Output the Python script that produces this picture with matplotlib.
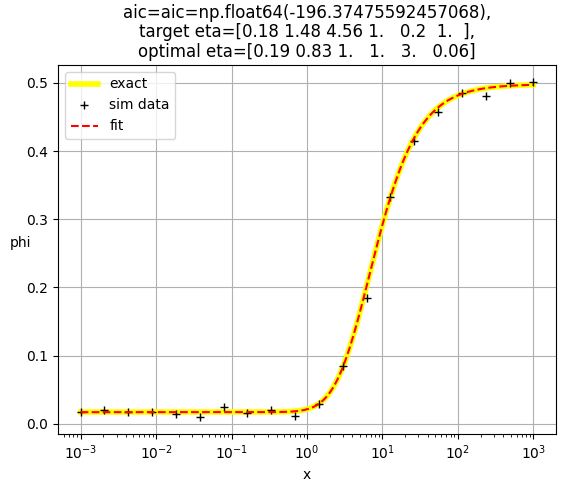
import numpy as np
import matplotlib
matplotlib.use("Agg")
import matplotlib.pyplot as plt

# simulated data
x_data = [0.001, 0.00207, 0.00428, 0.00886, 0.01833, 0.03793, 0.07848, 0.1624,
          0.336, 0.6952, 1.438, 2.976, 6.158, 12.74, 26.37, 54.56, 112.9,
          233.6, 483.3, 1000.0]
phi_data = [0.0171, 0.0200, 0.0171, 0.0180, 0.0142, 0.0098, 0.0249, 0.0160,
            0.0210, 0.0117, 0.0290, 0.0852, 0.1847, 0.3320, 0.4148, 0.4576,
            0.4844, 0.4810, 0.4996, 0.5015]

# sigmoid curve parameters
exact_base, exact_top, exact_K, exact_n, exact_m = 0.0174, 0.4980, 2.59, 1.24, 3.26
fit_base, fit_top, fit_K, fit_n, fit_m = 0.0172, 0.4980, 2.59, 1.24, 3.26

title = ("aic=aic=np.float64(-196.37475592457068),\n"
         "target eta=[0.18 1.48 4.56 1.   0.2  1.  ],\n"
         "optimal eta=[0.19 0.83 1.   1.   3.   0.06]")


def curve(x, base, top, K, n, m):
    h = (x / K) ** n / (1 + (x / K) ** n)
    return base + (top - base) * h ** m


xs = np.logspace(-3, 3, 400)

fig = plt.figure(figsize=(5.64, 4.92), dpi=100)
ax = fig.add_axes([58 / 564, 1 - 434 / 492, (556 - 58) / 564, (434 - 65) / 492])
ax.plot(xs, curve(xs, exact_base, exact_top, exact_K, exact_n, exact_m),
        color="yellow", lw=4, label="exact")
ax.plot(x_data, phi_data, "k+", label="sim data")
ax.plot(xs, curve(xs, fit_base, fit_top, fit_K, fit_n, fit_m), "r--", label="fit")
ax.set_xscale("log")
ax.set_xlabel("x")
ax.set_ylabel("phi", rotation=0)
ax.set_title(title, linespacing=1.1)
ax.grid(True)
ax.legend(loc="upper left")
fig.savefig("out.png", dpi=100)
